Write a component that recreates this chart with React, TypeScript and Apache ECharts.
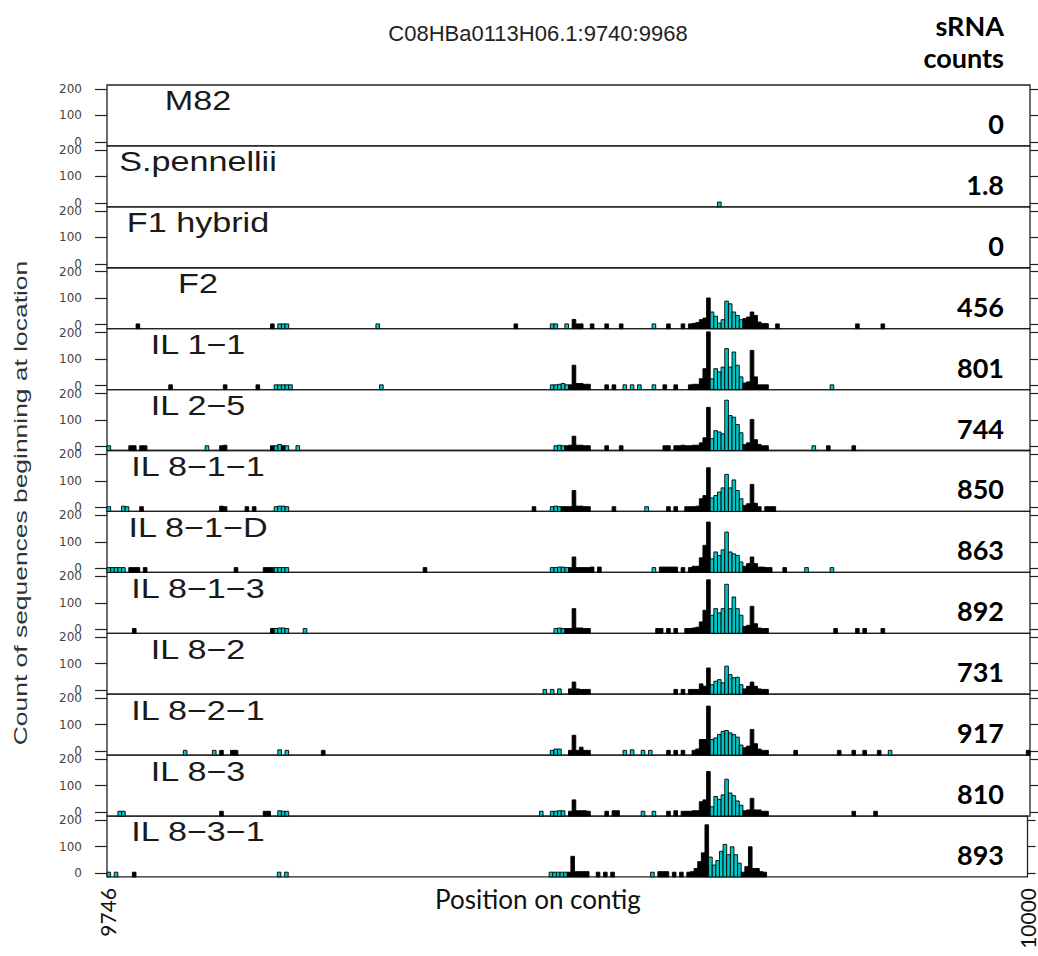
import React, { useEffect, useRef } from "react";
import * as echarts from "echarts";

// ---------- data ----------
const TITLE = "C08HBa0113H06.1:9740:9968";
const panelNames = [
  "M82", "S.pennellii", "F1 hybrid", "F2", "IL 1\u22121", "IL 2\u22125", "IL 8\u22121\u22121",
  "IL 8\u22121\u2212D", "IL 8\u22121\u22123", "IL 8\u22122", "IL 8\u22122\u22121", "IL 8\u22123", "IL 8\u22123\u22121",
];
const srnaCounts = ["0", "1.8", "0", "456", "801", "744", "850", "863", "892", "731", "917", "810", "893"];
const yTicks = [0, 100, 200];
const xTicks = [9746, 10000];

// [position, count, teal(1) / black(0)]
const M82: number[][] = [];
const SPEN: number[][] = [[9914, 3, 1]];
const F1: number[][] = [];
const F2: number[][] = [
  [9754,3,0],[9791,3,0],[9793,3,1],[9794,3,1],[9795,3,1],[9820,3,1],[9858,3,0],[9868,3,1],[9869,3,1],[9872,3,1],
  [9874,20,0],[9875,3,0],[9876,3,0],[9879,3,0],[9883,3,0],[9887,3,0],[9896,3,1],[9900,3,0],[9904,3,0],[9906,3,0],
  [9907,5,0],[9908,8,0],[9909,19,0],[9910,25,0],[9911,101,0],[9912,48,1],[9913,32,1],[9914,6,1],[9915,19,1],[9916,89,1],
  [9917,79,1],[9918,48,1],[9919,35,1],[9920,19,1],[9921,23,0],[9922,29,0],[9923,48,0],[9924,35,0],[9925,10,0],[9926,4,0],
  [9927,4,0],[9930,3,0],[9952,3,0],[9959,3,0],
];
const IL11: number[][] = [
  [9763,3,0],[9778,3,0],[9787,3,0],[9792,3,1],[9793,3,1],[9794,3,1],[9795,3,1],[9796,3,1],[9821,3,1],
  [9868,3,1],[9869,3,1],[9870,5,1],[9871,8,1],[9872,3,1],[9873,3,0],[9874,77,0],[9875,8,0],[9876,8,0],[9877,5,0],[9878,5,0],
  [9883,3,0],[9885,3,0],[9888,3,1],[9890,3,1],[9892,3,1],[9896,3,1],[9899,3,0],[9902,3,0],[9906,3,0],[9907,5,0],[9908,5,0],
  [9909,26,0],[9910,64,0],[9911,203,0],[9912,26,1],[9913,64,1],[9914,52,1],[9915,70,1],[9916,140,1],[9917,70,1],[9918,127,1],
  [9919,77,1],[9920,33,1],[9921,10,0],[9922,14,0],[9923,133,0],[9924,33,0],[9925,3,0],[9926,3,0],[9927,3,0],[9945,3,1],
];
const IL25: number[][] = [
  [9746,3,1],[9752,3,0],[9753,3,0],[9755,3,0],[9756,3,0],[9773,3,1],[9777,3,0],[9778,5,0],[9791,3,0],[9792,3,1],[9793,8,1],
  [9794,3,0],[9795,3,1],[9798,3,1],
  [9869,3,1],[9870,5,1],[9871,3,1],[9872,3,0],[9873,5,0],[9874,39,0],[9875,5,0],[9876,5,0],[9877,3,0],[9878,3,0],[9883,3,0],
  [9887,3,0],[9899,3,0],[9900,3,0],[9902,3,0],[9903,3,0],[9904,5,0],[9905,3,0],[9906,3,0],[9907,5,0],[9908,5,0],[9909,14,0],
  [9910,33,0],[9911,148,0],[9912,30,1],[9913,60,1],[9914,55,1],[9915,48,1],[9916,175,1],[9917,117,1],[9918,111,1],[9919,83,1],
  [9920,52,1],[9921,8,0],[9922,14,0],[9923,102,0],[9924,26,0],[9925,8,0],[9926,3,0],[9927,3,0],[9940,3,1],[9944,3,0],[9951,3,0],
];
const IL811: number[][] = [
  [9746,3,1],[9750,5,1],[9751,3,1],[9755,3,0],[9777,5,0],[9778,3,0],[9784,3,0],[9786,3,0],[9792,3,1],[9793,5,1],[9794,5,1],[9795,3,1],
  [9863,3,0],[9868,3,1],[9869,5,1],[9870,3,1],[9871,3,0],[9872,3,0],[9873,3,0],[9874,64,0],[9875,5,0],[9876,5,0],[9877,3,0],
  [9878,3,0],[9885,3,0],[9894,3,1],[9900,3,0],[9902,3,0],[9905,3,0],[9906,3,0],[9907,3,0],[9908,5,0],[9909,33,0],[9910,45,0],
  [9911,150,0],[9912,36,1],[9913,45,1],[9914,58,1],[9915,74,1],[9916,125,1],[9917,74,1],[9918,104,1],[9919,64,1],[9920,33,1],
  [9921,8,0],[9922,14,0],[9923,87,0],[9924,16,0],[9925,3,0],[9927,3,0],[9928,3,0],[9929,3,0],
];
const IL81D: number[][] = [
  [9746,3,1],[9747,3,1],[9748,3,1],[9749,3,1],[9750,3,1],[9752,3,0],[9753,3,0],[9754,3,0],[9756,3,0],[9781,3,0],[9789,3,0],
  [9790,3,0],[9791,3,0],[9792,3,1],[9793,3,1],[9794,3,1],[9795,3,1],[9833,3,0],
  [9868,3,1],[9869,3,1],[9870,5,1],[9871,5,1],[9872,3,1],[9873,3,0],[9874,43,0],[9875,3,0],[9876,3,0],[9877,3,0],[9878,3,0],
  [9879,5,0],[9881,5,0],[9896,3,1],[9898,5,0],[9899,5,0],[9900,5,0],[9901,5,0],[9902,5,0],[9904,3,0],[9906,3,0],[9907,8,0],
  [9908,8,0],[9909,40,0],[9910,87,0],[9911,175,0],[9912,36,1],[9913,62,1],[9914,49,1],[9915,70,1],[9916,137,1],[9917,62,1],
  [9918,55,1],[9919,49,1],[9920,24,1],[9921,8,0],[9922,18,0],[9923,43,0],[9924,18,0],[9925,5,0],[9926,5,0],[9927,3,0],
  [9928,3,0],[9932,3,0],[9938,3,1],[9945,3,1],
];
const IL813: number[][] = [
  [9753,3,0],[9791,3,0],[9792,3,1],[9793,5,1],[9794,5,1],[9795,3,1],[9800,3,1],
  [9869,3,1],[9870,5,1],[9871,3,1],[9872,3,0],[9873,3,0],[9874,78,0],[9875,5,0],[9876,5,0],[9877,3,0],[9878,3,0],[9897,3,0],
  [9898,3,0],[9900,3,0],[9902,3,0],[9905,3,0],[9906,3,0],[9907,5,0],[9908,8,0],[9909,28,0],[9910,72,0],[9911,187,0],[9912,53,1],
  [9913,78,1],[9914,62,1],[9915,78,1],[9916,170,1],[9917,78,1],[9918,122,1],[9919,78,1],[9920,53,1],[9921,11,0],[9922,15,0],
  [9923,87,0],[9924,21,0],[9925,5,0],[9926,3,0],[9927,3,0],[9946,3,0],[9952,3,0],[9954,3,0],[9959,3,0],
];
const IL82: number[][] = [
  [9866,3,1],[9868,3,1],[9870,5,1],[9873,5,0],[9874,31,0],[9875,5,0],[9876,3,0],[9877,3,0],[9878,3,0],[9902,3,0],[9904,3,0],
  [9906,3,0],[9907,3,0],[9908,3,0],[9909,24,0],[9910,15,0],[9911,84,0],[9912,21,1],[9913,34,1],[9914,40,1],[9915,28,1],
  [9916,91,1],[9917,59,1],[9918,47,1],[9919,49,1],[9920,21,1],[9921,5,0],[9922,15,0],[9923,31,0],[9924,15,0],[9925,5,0],
  [9926,3,0],[9927,3,0],
];
const IL821: number[][] = [
  [9767,3,1],[9775,3,1],[9777,3,0],[9780,3,0],[9781,3,0],[9793,5,1],[9795,3,1],[9805,3,0],
  [9868,3,1],[9869,8,1],[9870,8,1],[9873,3,0],[9874,60,0],[9875,3,0],[9876,15,0],[9877,3,0],[9878,3,0],[9888,3,1],[9890,5,1],
  [9893,3,1],[9895,3,1],[9900,3,0],[9902,3,0],[9904,3,0],[9907,3,0],[9908,8,0],[9909,44,0],[9910,44,0],[9911,170,0],[9912,44,1],
  [9913,50,1],[9914,63,1],[9915,75,1],[9916,78,1],[9917,69,1],[9918,63,1],[9919,53,1],[9920,23,1],[9921,13,0],[9922,19,0],
  [9923,82,0],[9924,28,0],[9925,8,0],[9926,3,0],[9927,3,0],[9935,3,0],[9947,3,0],[9951,3,0],[9954,3,0],[9958,3,0],[9961,3,1],
  [9999,3,0],
];
const IL83: number[][] = [
  [9749,3,1],[9750,3,1],[9777,3,0],[9789,3,0],[9790,3,0],[9793,5,1],[9794,3,1],[9795,3,1],
  [9865,3,1],[9868,3,1],[9869,3,1],[9870,5,1],[9871,5,1],[9873,3,0],[9874,46,0],[9875,5,0],[9876,5,0],[9877,5,0],[9878,3,0],
  [9883,3,0],[9885,5,0],[9886,5,0],[9893,3,1],[9896,3,1],[9900,3,0],[9902,5,0],[9904,3,0],[9905,3,0],[9906,3,0],[9907,5,0],
  [9908,5,0],[9909,39,0],[9910,46,0],[9911,153,0],[9912,20,1],[9913,59,1],[9914,48,1],[9915,65,1],[9916,124,1],[9917,72,1],
  [9918,62,1],[9919,42,1],[9920,26,1],[9921,5,0],[9922,8,0],[9923,52,0],[9924,8,0],[9925,8,0],[9926,3,0],[9927,3,0],
  [9951,3,0],[9957,3,0],
];
const IL831: number[][] = [
  [9746,3,1],[9748,3,1],[9753,3,0],[9793,3,1],[9795,3,1],
  [9868,3,1],[9869,3,1],[9870,3,1],[9871,3,1],[9872,3,1],[9873,3,0],[9874,63,0],[9875,5,0],[9876,5,0],[9877,5,0],[9878,5,0],
  [9881,3,0],[9883,3,0],[9885,3,0],[9896,3,1],[9898,5,0],[9899,5,0],[9900,5,0],[9902,3,0],[9904,3,0],[9906,3,0],[9907,5,0],
  [9908,17,0],[9909,43,0],[9910,76,0],[9911,182,0],[9912,60,1],[9913,30,1],[9914,47,1],[9915,82,1],[9916,108,1],[9917,69,1],
  [9918,99,1],[9919,69,1],[9920,37,1],[9921,3,0],[9922,24,0],[9923,99,0],[9924,17,0],[9925,17,0],[9926,5,0],[9927,3,0],
];
const panelData = [M82, SPEN, F1, F2, IL11, IL25, IL811, IL81D, IL813, IL82, IL821, IL83, IL831];

// ---------- layout / style ----------
const LEFT = 107;
const PW = 923;
const TOP = 85;
const PH = 60.92;
const X_MIN = 9746;
const X_MAX = 10000;
const Y_MIN = -15;
const Y_MAX = 215;
const TEAL = "#00c8c8";

export default function App() {
  const ref = useRef<HTMLDivElement>(null);

  useEffect(() => {
    if (!ref.current) return;
    const chart = echarts.init(ref.current, undefined, { renderer: "svg" });

    const grids: any[] = [];
    const xAxes: any[] = [];
    const yAxes: any[] = [];
    const series: any[] = [];
    const graphics: any[] = [];

    const renderBar = (params: any, api: any) => {
      const p = api.value(0);
      const v = api.value(1);
      const teal = api.value(2) === 1;
      const a = api.coord([p, v]);
      const b = api.coord([p + 1, Y_MIN]);
      return {
        type: "rect",
        shape: { x: a[0], y: a[1], width: b[0] - a[0], height: b[1] - a[1] },
        style: { fill: teal ? TEAL : "#000", stroke: "#000", lineWidth: 0.9 },
      };
    };

    panelData.forEach((data, i) => {
      const top = TOP + i * PH;
      const last = i === panelData.length - 1;
      grids.push({
        left: LEFT, top, width: PW, height: PH, show: true,
        borderColor: "#222", borderWidth: 1.3, backgroundColor: "transparent",
      });
      xAxes.push({
        gridIndex: i, type: "value", min: X_MIN, max: X_MAX,
        axisLine: { show: false }, axisTick: { show: false }, splitLine: { show: false },
        axisLabel: last
          ? {
              show: true, rotate: 90, customValues: xTicks, margin: 11, fontFamily: "Lato", fontSize: 21,
              lineHeight: 16, color: "#111", hideOverlap: false, formatter: (v: number) => String(v),
            }
          : { show: false },
      });
      yAxes.push({
        gridIndex: i, type: "value", min: Y_MIN, max: Y_MAX, position: "left",
        axisLine: { show: false }, splitLine: { show: false },
        axisTick: { show: true, length: 12, customValues: yTicks, lineStyle: { color: "#222", width: 1.2 } },
        axisLabel: { show: true, customValues: yTicks, margin: 25, fontFamily: "DejaVu Sans", fontSize: 12, color: "#444" },
      });
      yAxes.push({
        gridIndex: i, type: "value", min: Y_MIN, max: Y_MAX, position: "right",
        axisLine: { show: false }, splitLine: { show: false },
        axisTick: { show: true, length: 8, customValues: yTicks, lineStyle: { color: "#222", width: 1.2 } },
        axisLabel: { show: false },
      });
      series.push({
        type: "custom", name: panelNames[i], xAxisIndex: i, yAxisIndex: 2 * i,
        data, renderItem: renderBar, encode: { x: 0, y: 1 }, silent: true,
      });
      graphics.push({
        type: "text", x: 198, y: top + 16, scaleX: 1.22,
        style: {
          text: panelNames[i], fontFamily: "Liberation Sans", fontSize: 28, fill: "#1a1a1a",
          align: "center", verticalAlign: "middle",
        },
      });
      graphics.push({
        type: "text", x: 1004, y: top + PH / 2 + 8,
        style: {
          text: srnaCounts[i], fontFamily: "Lato", fontWeight: "bold", fontSize: 27, fill: "#000",
          align: "right", verticalAlign: "middle",
        },
      });
    });

    graphics.push(
      {
        type: "text", x: 538, y: 33,
        style: { text: TITLE, fontFamily: "Liberation Sans", fontSize: 22, fill: "#222", align: "center", verticalAlign: "middle" },
      },
      {
        type: "text", x: 1004, y: 25,
        style: { text: "sRNA", fontFamily: "Lato", fontWeight: "bold", fontSize: 27, fill: "#000", align: "right", verticalAlign: "middle" },
      },
      {
        type: "text", x: 1004, y: 57,
        style: { text: "counts", fontFamily: "Lato", fontWeight: "bold", fontSize: 27, fill: "#000", align: "right", verticalAlign: "middle" },
      },
      {
        type: "text", x: 20, y: 503, rotation: Math.PI / 2, scaleX: 1.39,
        style: {
          text: "Count of sequences beginning at location", fontFamily: "Liberation Sans", fontSize: 19,
          fill: "#333", align: "center", verticalAlign: "middle",
        },
      },
      {
        type: "text", x: 538, y: 899,
        style: { text: "Position on contig", fontFamily: "Lato", fontSize: 26, fill: "#111", align: "center", verticalAlign: "middle" },
      },
    );

    chart.setOption({
      animation: false,
      backgroundColor: "#fff",
      grid: grids,
      xAxis: xAxes,
      yAxis: yAxes,
      series,
      graphic: { elements: graphics },
    });

    return () => chart.dispose();
  }, []);

  return <div ref={ref} style={{ position: "absolute", left: 0, top: 0, width: 1038, height: 956 }} />;
}
